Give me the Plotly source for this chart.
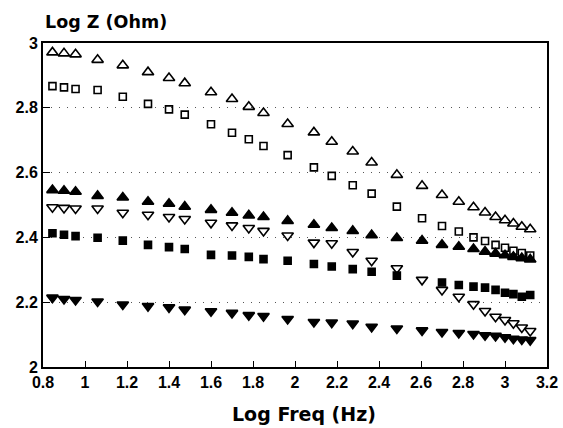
import plotly.graph_objects as go

log_freq = [0.845, 0.9, 0.955, 1.06, 1.18, 1.3, 1.4, 1.475, 1.6, 1.7, 1.78, 1.85,
            1.965, 2.09, 2.175, 2.275, 2.365, 2.485, 2.605, 2.7, 2.78, 2.85, 2.905,
            2.955, 3.0, 3.04, 3.08, 3.12]

open_tri_up = [2.971, 2.968, 2.965, 2.948, 2.931, 2.910, 2.892, 2.876, 2.848, 2.827, 2.803, 2.784,
               2.750, 2.724, 2.695, 2.665, 2.631, 2.593, 2.559, 2.531, 2.510, 2.493, 2.477,
               2.463, 2.453, 2.443, 2.433, 2.425]
open_square = [2.867, 2.863, 2.858, 2.855, 2.834, 2.812, 2.795, 2.779, 2.749, 2.723, 2.703, 2.682,
               2.654, 2.616, 2.590, 2.561, 2.535, 2.495, 2.459, 2.435, 2.418, 2.400, 2.389,
               2.377, 2.368, 2.359, 2.352, 2.344]
filled_tri_up = [2.546, 2.544, 2.541, 2.528, 2.523, 2.510, 2.504, 2.495, 2.485, 2.476, 2.468, 2.463,
                 2.451, 2.439, 2.429, 2.420, 2.407, 2.398, 2.390, 2.377, 2.371, 2.364, 2.356,
                 2.350, 2.345, 2.340, 2.336, 2.332]
open_tri_down = [2.493, 2.491, 2.489, 2.489, 2.476, 2.470, 2.463, 2.457, 2.445, 2.437, 2.429, 2.420,
                 2.406, 2.384, 2.382, 2.355, 2.328, 2.305, 2.269, 2.238, 2.217, 2.194, 2.173,
                 2.155, 2.145, 2.135, 2.122, 2.111]
filled_square = [2.413, 2.408, 2.404, 2.399, 2.390, 2.377, 2.370, 2.364, 2.346, 2.344, 2.340, 2.333,
                 2.328, 2.318, 2.310, 2.302, 2.294, 2.282, None, 2.261, 2.253, 2.248, 2.245,
                 2.238, 2.229, 2.225, 2.217, 2.222]
filled_tri_down = [2.214, 2.210, 2.207, 2.202, 2.193, 2.188, 2.184, 2.177, 2.172, 2.167, 2.160, 2.157,
                   2.148, 2.139, 2.137, 2.134, 2.124, 2.119, 2.113, 2.108, 2.105, 2.102, 2.098,
                   2.096, 2.092, 2.087, 2.085, 2.083]

x_ticks = [0.8, 1, 1.2, 1.4, 1.6, 1.8, 2, 2.2, 2.4, 2.6, 2.8, 3, 3.2]
x_tick_labels = ["0.8", "1", "1.2", "1.4", "1.6", "1.8", "2", "2.2", "2.4", "2.6", "2.8", "3", "3.2"]
y_ticks = [2, 2.2, 2.4, 2.6, 2.8, 3]
y_tick_labels = ["2", "2.2", "2.4", "2.6", "2.8", "3"]

series = [
    (open_tri_up, "triangle-up-open", 10),
    (open_square, "square-open", 7),
    (filled_tri_up, "triangle-up", 10),
    (open_tri_down, "triangle-down-open", 10),
    (filled_square, "square", 7),
    (filled_tri_down, "triangle-down", 10),
]

fig = go.Figure()
for ys, sym, sz in series:
    fig.add_trace(go.Scatter(
        x=log_freq, y=ys, mode="markers",
        marker=dict(symbol=sym, size=sz, color="black", line=dict(color="black", width=1.6)),
        showlegend=False, cliponaxis=False,
    ))

tick_font = "Liberation Sans"
title_font = "DejaVu Sans"
plot_h = 428 - 43 - 61
plot_w = 563 - 43 - 16
fig.update_layout(
    width=563, height=428,
    margin=dict(l=43, r=16, t=43, b=61, autoexpand=False),
    paper_bgcolor="white", plot_bgcolor="white",
    font=dict(family=tick_font, color="black"),
    xaxis=dict(
        range=[0.8, 3.2], tickvals=x_ticks, ticktext=[f"<b>{t}</b>" for t in x_tick_labels],
        ticks="inside", ticklen=6, tickwidth=1, tickcolor="black",
        showline=True, linecolor="black", linewidth=2, mirror=True, automargin=False,
        showgrid=False, zeroline=False, tickfont=dict(size=16, family=tick_font),
    ),
    yaxis=dict(
        range=[2, 3], tickvals=y_ticks, ticktext=[f"<b>{t}</b>" for t in y_tick_labels],
        ticks="inside", ticklen=7, tickwidth=1, tickcolor="black",
        showline=True, linecolor="black", linewidth=2, mirror=True, automargin=False,
        showgrid=True, gridcolor="#555555", gridwidth=1, griddash="1px,7px",
        zeroline=False, tickfont=dict(size=16, family=tick_font),
    ),
    annotations=[
        dict(
            text="<b>Log Z (Ohm)</b>", x=0, y=1 + (43 - 22) / plot_h,
            xref="paper", yref="paper",
            showarrow=False, font=dict(size=17.5, family=title_font), xanchor="left", yanchor="middle",
        ),
        dict(
            text="<b>Log Freq (Hz)</b>", x=(304 - 43) / plot_w, y=-(414 - 367) / plot_h,
            xref="paper", yref="paper",
            showarrow=False, font=dict(size=19, family=title_font), xanchor="center", yanchor="middle",
        ),
    ],
)

fig.write_html("out.html")
